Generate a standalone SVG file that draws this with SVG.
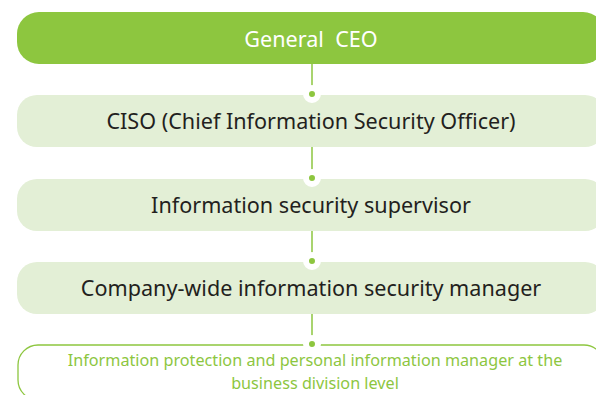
<svg xmlns="http://www.w3.org/2000/svg" width="596" height="395" viewBox="0 0 596 395">
<style>
.lt{fill:#e3efd6}
.t{font-family:"Noto Sans","Open Sans",sans-serif;font-size:21.6px;fill:#231f20;text-anchor:middle;white-space:pre}
.g{fill:#8dc63f;font-size:16.2px}
.ln{stroke:#8dc63f;stroke-width:1.5;fill:none}
.dot{fill:#8dc63f;stroke:#fff;stroke-width:6}
</style>
<rect width="596" height="395" fill="#fff"/>
<g id="ceo">
<rect x="17" y="12" width="588" height="52" rx="22" fill="#8dc63f"/>
<text class="t" x="311" y="47" style="fill:#fff">General  CEO</text>
</g>
<g id="ciso">
<rect class="lt" x="17" y="95" width="588" height="52" rx="20"/>
<text class="t" x="311" y="129">CISO (Chief Information Security Officer)</text>
</g>
<g id="supervisor">
<rect class="lt" x="17" y="179" width="588" height="52" rx="20"/>
<text class="t" x="311" y="213">Information security supervisor</text>
</g>
<g id="manager">
<rect class="lt" x="17" y="262" width="588" height="52" rx="20"/>
<text class="t" x="311" y="296">Company-wide information security manager</text>
</g>
<g id="division">
<rect x="18" y="345" width="586" height="55" rx="20" fill="none" stroke="#8dc63f" stroke-width="1.3"/>
<text class="t g" x="315" y="366">Information protection and personal information manager at the</text>
<text class="t g" x="315" y="389">business division level</text>
</g>
<g id="connectors">
<line class="ln" x1="312" y1="64" x2="312" y2="94"/>
<line class="ln" x1="312" y1="147" x2="312" y2="178"/>
<line class="ln" x1="312" y1="231" x2="312" y2="261"/>
<line class="ln" x1="312" y1="314" x2="312" y2="344"/>
<circle class="dot" cx="312" cy="94" r="6"/>
<circle class="dot" cx="312" cy="178" r="6"/>
<circle class="dot" cx="312" cy="261" r="6"/>
<circle class="dot" cx="312" cy="344" r="6"/>
</g>
</svg>
